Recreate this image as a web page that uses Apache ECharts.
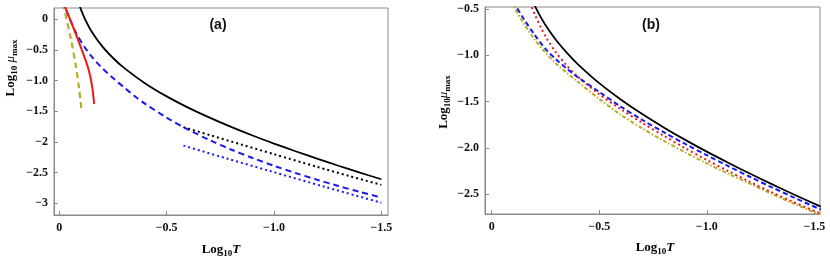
<!DOCTYPE html>
<html>
<head>
<meta charset="utf-8">
<script src="https://cdn.jsdelivr.net/npm/echarts@6/dist/echarts.min.js"></script>
<style>
html,body{margin:0;padding:0;background:#fff;}
#c{width:830px;height:264px;}
</style>
</head>
<body>
<div id="c"></div>
<script>
// ---------- Panel (a) data ----------
var aBlackSolidX = [-0.085, -0.096, -0.12, -0.15, -0.2, -0.25, -0.3, -0.4, -0.5, -0.6, -0.7, -0.8, -0.9, -1.0, -1.1, -1.2, -1.3, -1.4, -1.5];
var aBlackSolidY = [0.315, 0.198, -0.006, -0.201, -0.445, -0.634, -0.791, -1.048, -1.259, -1.442, -1.605, -1.756, -1.896, -2.027, -2.152, -2.272, -2.388, -2.500, -2.608];
var aBlueDashX = [-0.015, -0.027, -0.05, -0.08, -0.12, -0.16, -0.2, -0.25, -0.3, -0.35, -0.4, -0.5, -0.6, -0.7, -0.8, -0.9, -1.0, -1.1, -1.2, -1.3, -1.4, -1.5];
var aBlueDashY = [0.292, 0.188, -0.01, -0.24, -0.47, -0.65, -0.80, -0.96, -1.109, -1.252, -1.381, -1.606, -1.800, -1.971, -2.124, -2.262, -2.389, -2.506, -2.615, -2.718, -2.814, -2.905];
var aBlackDotX = [-0.578, -0.7, -0.85, -1.0, -1.2, -1.35, -1.5];
var aBlackDotY = [-1.76, -1.888, -2.045, -2.2, -2.405, -2.555, -2.700];
var aBlueDotX = [-0.578, -0.78, -0.982, -1.24, -1.5];
var aBlueDotY = [-2.06, -2.27, -2.475, -2.735, -2.99];
var aRedX = [-0.02, -0.03, -0.084, -0.13, -0.145, -0.154, -0.162];
var aRedY = [0.25, 0.17, -0.31, -0.75, -0.95, -1.13, -1.38];
var aOliveX = [-0.016, -0.022, -0.053, -0.076, -0.092, -0.103];
var aOliveY = [0.25, 0.17, -0.31, -0.75, -1.13, -1.48];

// ---------- Panel (b) data ----------
var bBlackX = [-0.19, -0.203, -0.23, -0.26, -0.3, -0.35, -0.4, -0.5, -0.6, -0.7, -0.8, -0.9, -1.0, -1.1, -1.2, -1.3, -1.4, -1.53];
var bBlackY = [-0.412, -0.477, -0.595, -0.708, -0.837, -0.974, -1.094, -1.300, -1.476, -1.634, -1.778, -1.913, -2.040, -2.160, -2.276, -2.388, -2.497, -2.634];
var bRedX = [-0.17, -0.185, -0.203, -0.23, -0.26, -0.3, -0.35, -0.4, -0.5, -0.6, -0.7, -0.8, -0.9, -1.0, -1.1, -1.2, -1.3, -1.4, -1.53];
var bRedY = [-0.38, -0.474, -0.573, -0.705, -0.833, -0.972, -1.114, -1.229, -1.420, -1.581, -1.729, -1.868, -2.003, -2.130, -2.250, -2.366, -2.476, -2.580, -2.709];
var bBlueX = [-0.10, -0.115, -0.15, -0.2, -0.25, -0.3, -0.35, -0.4, -0.5, -0.6, -0.7, -0.8, -0.9, -1.0, -1.1, -1.2, -1.3, -1.4, -1.53];
var bBlueY = [-0.42, -0.478, -0.61, -0.78, -0.93, -1.045, -1.145, -1.235, -1.395, -1.553, -1.697, -1.830, -1.957, -2.078, -2.196, -2.311, -2.422, -2.530, -2.665];
var bOliveX = [-0.09, -0.104, -0.15, -0.2, -0.25, -0.3, -0.35, -0.4, -0.5, -0.6, -0.7, -0.8, -0.9, -1.0, -1.1, -1.2, -1.3, -1.4, -1.53];
var bOliveY = [-0.42, -0.478, -0.66, -0.83, -0.97, -1.09, -1.19, -1.285, -1.470, -1.641, -1.789, -1.923, -2.048, -2.167, -2.278, -2.386, -2.493, -2.597, -2.724];

// ---------- Tick values / labels ----------
var xTicks = [0, -0.5, -1.0, -1.5];
var xTickLabels = ['0', '\u22120.5', '\u22121.0', '\u22121.5'];
var aYTicks = [0, -0.5, -1.0, -1.5, -2, -2.5, -3];
var aYTickLabels = ['0', '\u22120.5', '\u22121.0', '\u22121.5', '\u22122', '\u22122.5', '\u22123'];
var bYTicks = [-0.5, -1.0, -1.5, -2.0, -2.5];
var bYTickLabels = ['\u22120.5', '\u22121.0', '\u22121.5', '\u22122.0', '\u22122.5'];

function pairs(xs, ys) { return xs.map(function (x, i) { return [x, ys[i]]; }); }
function lookup(vals, labels) {
  return function (v) {
    for (var i = 0; i < vals.length; i++) if (Math.abs(vals[i] - v) < 1e-6) return labels[i];
    return '';
  };
}

var SERIF = '"Liberation Serif", "Times New Roman", serif';
var frameColor = '#8a8a8a';
var tickFont = {fontFamily: SERIF, fontWeight: 'bold', fontSize: 12, color: '#111'};

function xAxisCfg(gi, min, max) {
  return {
    type: 'value', gridIndex: gi, inverse: true, min: min, max: max,
    axisLine: {show: true, onZero: false, lineStyle: {color: frameColor, width: 1}},
    axisTick: {show: true, inside: true, length: 4, customValues: xTicks, lineStyle: {color: frameColor}},
    axisLabel: Object.assign({customValues: xTicks, margin: 7, formatter: lookup(xTicks, xTickLabels)}, tickFont),
    splitLine: {show: false}
  };
}
function yAxisCfg(gi, min, max, ticks, labels) {
  return {
    type: 'value', gridIndex: gi, min: min, max: max,
    axisLine: {show: true, onZero: false, lineStyle: {color: frameColor, width: 1}},
    axisTick: {show: true, inside: true, length: 4, customValues: ticks, lineStyle: {color: frameColor}},
    axisLabel: Object.assign({customValues: ticks, margin: 6, formatter: lookup(ticks, labels)}, tickFont),
    splitLine: {show: false}
  };
}
function line(xi, data, color, width, type) {
  return {
    type: 'line', xAxisIndex: xi, yAxisIndex: xi, data: data,
    showSymbol: false, symbol: 'none', smooth: 0.3, clip: true,
    lineStyle: {color: color, width: width, type: type, cap: 'butt'},
    silent: true, animation: false
  };
}

var BLUE = '#1a1aee', RED = '#ee1a1a', OLIVE = '#b8ae22', BLACK = '#000';

var nameRich = {
  b: {fontFamily: SERIF, fontWeight: 'bold', fontSize: 13, color: '#222'},
  s: {fontFamily: SERIF, fontWeight: 'bold', fontSize: 9, color: '#222', padding: [7, 0, 0, 0]},
  i: {fontFamily: SERIF, fontWeight: 'bold', fontStyle: 'italic', fontSize: 13, color: '#222'}
};
var nameRichY = {
  b: {fontFamily: SERIF, fontWeight: 'bold', fontSize: 13, color: '#222'},
  s: {fontFamily: SERIF, fontWeight: 'bold', fontSize: 9, color: '#222', padding: [7, 0, 0, 0]},
  i: {fontFamily: SERIF, fontStyle: 'italic', fontSize: 13, color: '#222'}
};

var chart = echarts.init(document.getElementById('c'), null, {renderer: 'canvas'});
chart.setOption({
  backgroundColor: '#fff',
  animation: false,
  textStyle: {fontFamily: SERIF},
  grid: [
    {left: 54, top: 8, width: 334, height: 207, show: true, borderColor: frameColor, borderWidth: 1, containLabel: false},
    {left: 485, top: 7, width: 335, height: 207, show: true, borderColor: frameColor, borderWidth: 1, containLabel: false}
  ],
  xAxis: [xAxisCfg(0, -1.531, 0.025), xAxisCfg(1, -1.5265, 0.031)],
  yAxis: [yAxisCfg(0, -3.19, 0.18, aYTicks, aYTickLabels), yAxisCfg(1, -2.713, -0.478, bYTicks, bYTickLabels)],
  series: [
    line(0, pairs(aBlackDotX, aBlackDotY), BLACK, 2, [2, 3]),
    line(0, pairs(aBlueDotX, aBlueDotY), BLUE, 2, [2, 3]),
    line(0, pairs(aBlueDashX, aBlueDashY), BLUE, 2, [6, 4]),
    line(0, pairs(aOliveX, aOliveY), OLIVE, 2.2, [6, 4]),
    line(0, pairs(aRedX, aRedY), RED, 2, 'solid'),
    line(0, pairs(aBlackSolidX, aBlackSolidY), BLACK, 1.8, 'solid'),
    line(1, pairs(bOliveX, bOliveY), OLIVE, 2, [4, 2, 1.5, 2]),
    line(1, pairs(bRedX, bRedY), RED, 2, [2, 3]),
    line(1, pairs(bBlueX, bBlueY), BLUE, 2, [5, 3]),
    line(1, pairs(bBlackX, bBlackY), BLACK, 1.8, 'solid')
  ],
  graphic: [
    {type: 'text', x: 218, y: 25, style: {text: '(a)', font: 'bold 14px "Liberation Sans"', fill: '#111', textAlign: 'center', textVerticalAlign: 'middle'}},
    {type: 'text', x: 651, y: 25, style: {text: '(b)', font: 'bold 14px "Liberation Sans"', fill: '#111', textAlign: 'center', textVerticalAlign: 'middle'}},
    {type: 'text', x: 221, y: 250, style: {text: '{b|Log}{s|10}{i|T}', rich: nameRich, textAlign: 'center', textVerticalAlign: 'middle'}},
    {type: 'text', x: 655, y: 248, style: {text: '{b|Log}{s|10}{i|T}', rich: nameRich, textAlign: 'center', textVerticalAlign: 'middle'}},
    {type: 'text', x: 11, y: 68, rotation: Math.PI / 2, style: {text: '{b|Log}{s|10}{i| \u03BC}{s|max}', rich: nameRichY, textAlign: 'center', textVerticalAlign: 'middle'}},
    {type: 'text', x: 444, y: 102, rotation: Math.PI / 2, style: {text: '{b|Log}{s|10}{i|\u03BC}{s|max}', rich: nameRichY, textAlign: 'center', textVerticalAlign: 'middle'}}
  ]
});
</script>
</body>
</html>
